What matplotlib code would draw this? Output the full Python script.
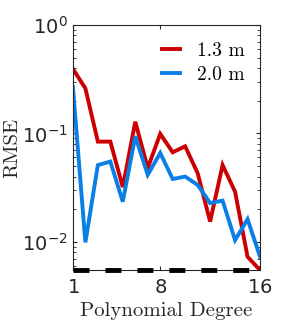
import matplotlib
matplotlib.use("Agg")
import matplotlib.pyplot as plt
import numpy as np

plt.rcParams['lines.scale_dashes'] = False
plt.rcParams['axes.formatter.use_mathtext'] = True

degree = list(range(1, 17))
rmse_13 = [0.393, 0.26, 0.084, 0.084, 0.032, 0.128, 0.048, 0.099, 0.067, 0.076,
           0.043, 0.0154, 0.051, 0.029, 0.0073, 0.0055]
rmse_20 = [0.267, 0.0099, 0.051, 0.055, 0.0235, 0.094, 0.0415, 0.066, 0.038, 0.040,
           0.0335, 0.0228, 0.024, 0.0104, 0.0162, 0.0073]
labels = ["1.3 m", "2.0 m"]
ymin, ymax = 0.0055, 1.0
ref_level = [ymin, ymin]
ref_x = [1, 16]

fig = plt.figure(figsize=(2.87, 3.27), dpi=100)
ax = fig.add_axes([0.254, 0.174, 0.652, 0.750])

ax.plot(degree, rmse_13, color="#CC0000", lw=2.8, label=labels[0], solid_joinstyle='miter')
ax.plot(degree, rmse_20, color="#0A80E6", lw=2.8, label=labels[1], solid_joinstyle='miter')
ax.plot(ref_x, ref_level, color="black", lw=3.5, linestyle=(0, (11.5, 11.5)),
        solid_capstyle='butt', clip_on=False, zorder=5)

ax.set_yscale('log')
ax.set_xlim(1, 16)
ax.set_ylim(ymin, ymax)
ax.set_xticks([1, 8, 16])
ax.set_yticks([1e-2, 1e-1, 1e0])
ax.tick_params(direction='in', which='both', top=True, right=True, labelsize=14,
               colors='#262626', length=3)
ax.tick_params(axis='x', pad=6)
ax.tick_params(which='minor', length=2)
for lab in ax.get_xticklabels() + ax.get_yticklabels():
    lab.set_color('#262626')
for s in ax.spines.values():
    s.set_color('#262626')
    s.set_linewidth(0.8)

ax.set_xlabel("Polynomial Degree", fontname='cmr10', fontsize=15, color='#262626', labelpad=3)
ax.set_ylabel("RMSE", fontname='cmr10', fontsize=15, color='#262626', labelpad=1)

leg = ax.legend(loc='upper right', frameon=False, prop={'family': 'cmr10', 'size': 14},
                handlelength=0.95, handletextpad=0.85, borderaxespad=0, borderpad=0,
                labelspacing=0.3, bbox_to_anchor=(0.918, 0.93))

fig.savefig("out.png", dpi=100)
